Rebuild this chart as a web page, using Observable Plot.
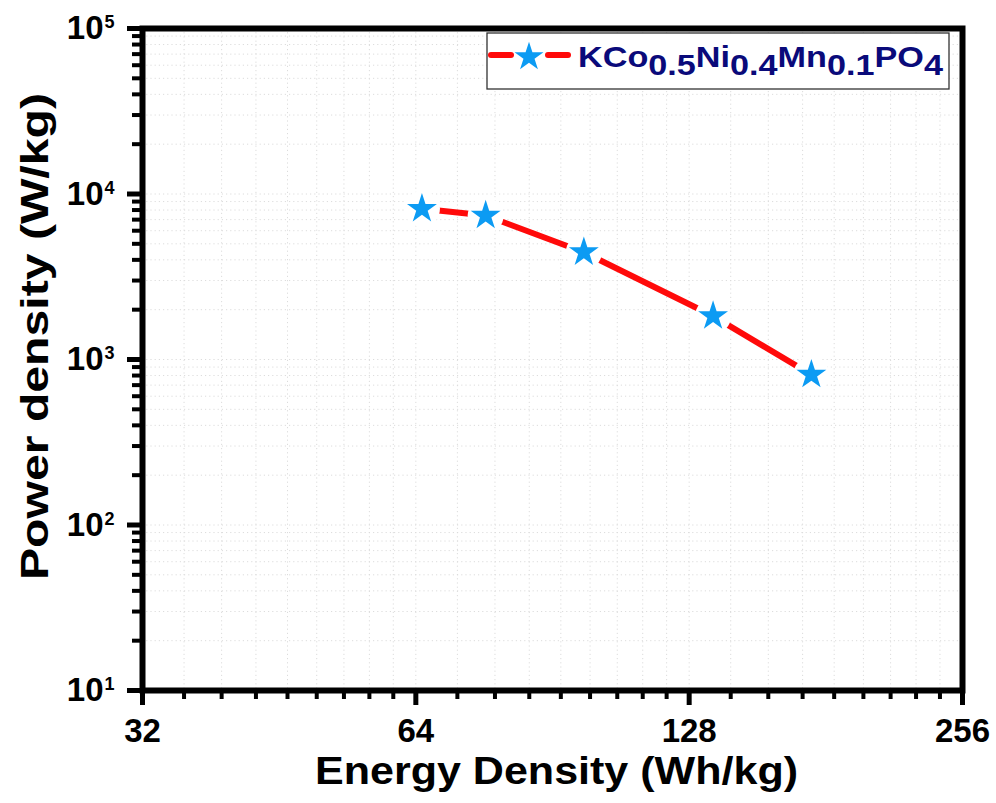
<!DOCTYPE html>
<html><head><meta charset="utf-8">
<script src="https://cdn.jsdelivr.net/npm/d3@7"></script>
<script src="https://cdn.jsdelivr.net/npm/@observablehq/plot@0.6"></script>
<style>
html,body{margin:0;padding:0;background:#fff;}
#chart svg{display:block;}
</style></head><body><div id="chart"></div>
<script>
// ---- data ----
const energy = [65, 76.4, 98, 136, 174.5];        // Wh/kg
const power  = [8140, 7410, 4450, 1830, 810];     // W/kg
const seriesParts = [["KCo",""],["0.5","sub"],["Ni",""],["0.4","sub"],["Mn",""],["0.1","sub"],["PO",""],["4","sub"]];
const xTicks = [32, 64, 128, 256];
const yTicks = [10, 100, 1000, 10000, 100000];
const yExponents = ["1", "2", "3", "4", "5"];
const xTitle = "Energy Density (Wh/kg)";
const yTitle = "Power density (W/kg)";

// minor ticks (8 linear steps inside each octave / 2..9 inside each decade)
const xMinor = [];
for (let i = 0; i < xTicks.length - 1; i++) for (let k = 1; k <= 8; k++) xMinor.push(xTicks[i] + xTicks[i] * k / 9);
const yMinor = [];
for (let i = 0; i < yTicks.length - 1; i++) for (let k = 2; k <= 9; k++) yMinor.push(yTicks[i] * k);

const data = energy.map((e, i) => ({energy: e, power: power[i]}));
const W = 996, H = 803;
const mL = 142, mR = 34, mT = 28, mB = 113;
const starColor = "#0c9bf3";
const lineColor = "#ff0a0a";
const gridStyle = {stroke: "#dcdcdc", strokeOpacity: 1, strokeWidth: 1, strokeDasharray: "1.2,3"};

const plot = Plot.plot({
  width: W, height: H,
  marginLeft: mL, marginRight: mR, marginTop: mT, marginBottom: mB,
  style: {fontFamily: "'Liberation Sans', Arial, sans-serif", background: "#fff", color: "#000"},
  x: {type: "log", base: 2, domain: [32, 256]},
  y: {type: "log", domain: [10, 1e5]},
  marks: [
    Plot.gridX(xMinor.concat(xTicks), gridStyle),
    Plot.gridY(yMinor.concat(yTicks), gridStyle),
    Plot.line(data, {x: "energy", y: "power", stroke: lineColor, strokeWidth: 6, strokeLinecap: "round"}),
    Plot.dot(data, {x: "energy", y: "power", r: 18, fill: "white", stroke: "none"}),
    Plot.dot(data, {x: "energy", y: "power", symbol: "star", r: 9.4, fill: starColor, stroke: "none"}),
    Plot.axisX(xMinor, {tickSize: 9, strokeWidth: 4, tickFormat: () => "", label: null}),
    Plot.axisX(xTicks, {tickSize: 15, strokeWidth: 5, tickPadding: 13, tickFormat: d => String(d),
      fontSize: 33, fontWeight: "bold", label: null}),
    Plot.axisY(yMinor, {tickSize: 10, strokeWidth: 4, tickFormat: () => "", label: null}),
    Plot.axisY(yTicks, {tickSize: 15, strokeWidth: 5, tickPadding: 24, tickFormat: () => "10",
      fontSize: 33, fontWeight: "bold", label: null}),
    Plot.text(yTicks, {y: d => d, text: (d, i) => yExponents[i], frameAnchor: "left", textAnchor: "start",
      dx: -38, dy: -6, fontSize: 18, fontWeight: "bold"}),
    Plot.frame({stroke: "black", strokeWidth: 6})
  ]
});

const svg = d3.select(plot);
// axis titles
svg.append("text")
  .attr("x", 315).attr("y", 784).attr("text-anchor", "start")
  .attr("textLength", 483).attr("lengthAdjust", "spacingAndGlyphs")
  .attr("font-size", 38).attr("font-weight", "bold").attr("fill", "#000")
  .text(xTitle);
svg.append("text")
  .attr("transform", "translate(48,580) rotate(-90)").attr("text-anchor", "start")
  .attr("x", 0).attr("y", 0)
  .attr("textLength", 487).attr("lengthAdjust", "spacingAndGlyphs")
  .attr("font-size", 38).attr("font-weight", "bold").attr("fill", "#000")
  .text(yTitle);

// legend
const lg = svg.append("g");
lg.append("rect").attr("x", 487).attr("y", 33).attr("width", 462).attr("height", 56)
  .attr("fill", "white").attr("stroke", "#333").attr("stroke-width", 1.3);
lg.append("line").attr("x1", 491).attr("x2", 511).attr("y1", 55).attr("y2", 55)
  .attr("stroke", lineColor).attr("stroke-width", 6).attr("stroke-linecap", "round");
lg.append("line").attr("x1", 548).attr("x2", 568).attr("y1", 55).attr("y2", 55)
  .attr("stroke", lineColor).attr("stroke-width", 6).attr("stroke-linecap", "round");
lg.append("path").attr("transform", "translate(529,57)")
  .attr("d", d3.symbol(d3.symbolStar, 260)()).attr("fill", starColor);
const lt = lg.append("text").attr("x", 578).attr("y", 67).attr("text-anchor", "start")
  .attr("textLength", 365).attr("lengthAdjust", "spacingAndGlyphs")
  .attr("font-size", 30).attr("font-weight", "bold").attr("fill", "#0a0a7a");
let prevSub = false;
seriesParts.forEach(([t, kind]) => {
  const isSub = kind === "sub";
  const ts = lt.append("tspan").text(t);
  if (isSub && !prevSub) ts.attr("dy", 8);
  if (!isSub && prevSub) ts.attr("dy", -8);
  prevSub = isSub;
});

document.getElementById("chart").appendChild(plot);
</script>
</body></html>
